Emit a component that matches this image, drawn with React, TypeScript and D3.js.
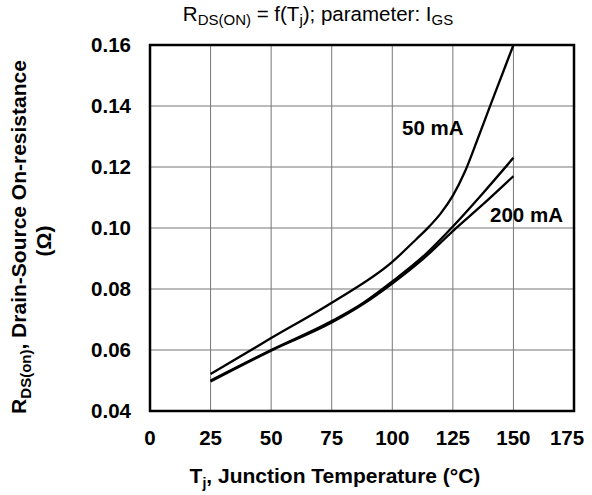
import React from "react";
import * as d3 from "d3";

const temps = [25, 50, 75, 100, 110, 115, 120, 125, 130, 135, 140, 145, 150];
const r50mA = [0.0521, 0.0639, 0.0755, 0.0889, 0.0964, 0.1003, 0.1048, 0.1106, 0.1185, 0.1287, 0.1392, 0.1496, 0.1600];
const tempsMid = [25, 50, 75, 87.5, 100, 112.5, 125, 137.5, 150];
const rMid = [0.0500, 0.0600, 0.0695, 0.0752, 0.0825, 0.0905, 0.1005, 0.1115, 0.1230];
const r200mA = [0.0497, 0.0598, 0.0690, 0.0748, 0.0818, 0.0897, 0.0990, 0.1078, 0.1170];
const xTicks = [0, 25, 50, 75, 100, 125, 150, 175];
const yTicks = [0.04, 0.06, 0.08, 0.1, 0.12, 0.14, 0.16];

const W = 592, H = 495;
const L = 150, R = 574, T = 45, B = 411;

export default function App() {
  const x = d3.scaleLinear().domain([0, 175]).range([L, R]);
  const y = d3.scaleLinear().domain([0.04, 0.16]).range([B, T]);
  const line = d3.line<[number, number]>().x(d => x(d[0])).y(d => y(d[1])).curve(d3.curveMonotoneX);
  const series = [
    temps.map((t, i) => [t, r50mA[i]] as [number, number]),
    tempsMid.map((t, i) => [t, rMid[i]] as [number, number]),
    tempsMid.map((t, i) => [t, r200mA[i]] as [number, number]),
  ];
  const font = "'Liberation Sans', Arial, Helvetica, sans-serif";
  const fs = 20.5;
  return (
    <svg width={W} height={H} style={{ position: "absolute", left: 0, top: 0, background: "#fff" }} fontFamily={font}>
      <rect x={0} y={0} width={W} height={H} fill="#fff" />
      <text x={318} y={21} textAnchor="middle" fontSize={20.5}>
        R<tspan fontSize={15} dy={4}>DS(ON)</tspan><tspan dy={-4}> = f(T</tspan><tspan fontSize={15} dy={4}>j</tspan><tspan dy={-4}>); parameter: I</tspan><tspan fontSize={15} dy={4}>GS</tspan>
      </text>
      {xTicks.slice(1, -1).map(t => (
        <line key={"gx" + t} x1={x(t)} x2={x(t)} y1={T} y2={B} stroke="#777" strokeWidth={1} />
      ))}
      {yTicks.slice(1, -1).map(t => (
        <line key={"gy" + t} x1={L} x2={R} y1={y(t)} y2={y(t)} stroke="#777" strokeWidth={1} />
      ))}
      {series.map((s, i) => (
        <path key={i} d={line(s) || ""} fill="none" stroke="#000" strokeWidth={2.3} />
      ))}
      <rect x={L} y={T} width={R - L} height={B - T} fill="none" stroke="#000" strokeWidth={2.5} />
      {yTicks.map(t => (
        <text key={"ty" + t} x={131} y={y(t) + 7} textAnchor="end" fontSize={fs} fontWeight="bold">{t.toFixed(2)}</text>
      ))}
      {xTicks.map(t => (
        <text key={"tx" + t} x={t === 175 ? x(t) - 7 : x(t)} y={445} textAnchor="middle" fontSize={fs} fontWeight="bold">{t}</text>
      ))}
      <text x={402} y={135} textAnchor="start" fontSize={fs} fontWeight="bold">50 mA</text>
      <text x={490} y={222} textAnchor="start" fontSize={fs} fontWeight="bold">200 mA</text>
      <text x={335} y={483} textAnchor="middle" fontSize={21} fontWeight="bold">
        T<tspan fontSize={14} dy={5}>j</tspan><tspan dy={-5}>, Junction Temperature (°C)</tspan>
      </text>
      <g transform="translate(26,237) rotate(-90)">
        <text x={0} y={0} textAnchor="middle" fontSize={21} fontWeight="bold">
          R<tspan fontSize={15} dy={5}>DS(on)</tspan><tspan dy={-5}>, Drain-Source On-resistance</tspan>
        </text>
        <text x={-4} y={25} textAnchor="middle" fontSize={21} fontWeight="bold">(Ω)</text>
      </g>
    </svg>
  );
}
